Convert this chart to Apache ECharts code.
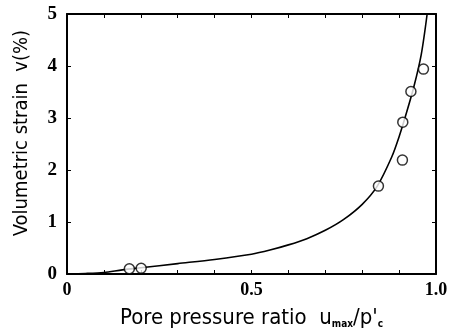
<!DOCTYPE html>
<html><head><meta charset="utf-8">
<script src="https://cdn.jsdelivr.net/npm/echarts@6/dist/echarts.min.js"></script>
<style>html,body{margin:0;padding:0;background:#fff}#c{width:453px;height:336px}</style>
</head><body><div id="c"></div>
<script>
// measured data points (pore pressure ratio, volumetric strain %)
var pointX = [0.169, 0.201, 0.844, 0.909, 0.910, 0.932, 0.966];
var pointY = [0.10, 0.11, 1.69, 2.19, 2.92, 3.51, 3.94];
// fitted curve
var curveX = [0, 0.05, 0.1, 0.15, 0.2, 0.3, 0.4, 0.5, 0.55, 0.6, 0.65, 0.7, 0.75, 0.8, 0.84, 0.88, 0.9, 0.92, 0.94, 0.96, 0.976];
var curveY = [0, 0.01, 0.03, 0.08, 0.12, 0.2, 0.28, 0.38, 0.46, 0.56, 0.68, 0.84, 1.05, 1.34, 1.68, 2.25, 2.64, 3.1, 3.6, 4.22, 5.0];
// tick labels
var xTickValues = [0, 0.5, 1.0];
var xTickLabels = ['0', '0.5', '1.0'];
var yTickLabels = ['0', '1', '2', '3', '4', '5'];

var chart = echarts.init(document.getElementById('c'));
function zip(a, b) { return a.map(function (v, i) { return [v, b[i]]; }); }
var serif = 'Liberation Serif, serif';
var narrow = 'Liberation Sans Narrow, DejaVu Sans Condensed, sans-serif';
var axLine = { show: true, onZero: false, lineStyle: { color: '#000', width: 2 } };
var tick = { show: true, inside: true, length: 4, lineStyle: { color: '#000', width: 1 } };
chart.setOption({
  animation: false,
  backgroundColor: '#fff',
  grid: { left: 67, right: 17, top: 14, bottom: 62 },
  xAxis: [{
    type: 'value', min: 0, max: 1, interval: 0.1, position: 'bottom',
    axisLine: axLine, axisTick: tick,
    axisLabel: { margin: 7, showMinLabel: true, showMaxLabel: true,
      fontFamily: serif, fontSize: 18, fontWeight: 'bold', color: '#000',
      formatter: function (v) {
        for (var i = 0; i < xTickValues.length; i++) if (Math.abs(v - xTickValues[i]) < 1e-6) return xTickLabels[i];
        return '';
      } },
    splitLine: { show: false },
    name: "Pore pressure ratio  u{s|max}/p'{s|c}",
    nameLocation: 'middle', nameGap: 33,
    nameTextStyle: {
      fontFamily: narrow, fontSize: 22, color: '#000',
      rich: { s: { fontSize: 10, fontFamily: narrow, fontWeight: 'bold', verticalAlign: 'bottom', padding: [10, 0, 0, 0], color: '#000' } }
    }
  }, {
    type: 'value', min: 0, max: 1, interval: 0.1, position: 'top',
    axisLine: axLine, axisTick: tick,
    axisLabel: { show: false }, splitLine: { show: false }
  }],
  yAxis: [{
    type: 'value', min: 0, max: 5, interval: 1, position: 'left',
    axisLine: axLine, axisTick: tick,
    axisLabel: { margin: 10, fontFamily: serif, fontSize: 19, fontWeight: 'bold', color: '#000',
      formatter: function (v) { return yTickLabels[Math.round(v)]; } },
    splitLine: { show: false },
    name: 'Volumetric strain  v(%)',
    nameLocation: 'middle', nameGap: 35,
    nameTextStyle: { fontFamily: narrow, fontSize: 20, color: '#000', padding: [0, 0, 0, 22] }
  }, {
    type: 'value', min: 0, max: 5, interval: 1, position: 'right',
    axisLine: axLine, axisTick: tick,
    axisLabel: { show: false }, splitLine: { show: false }
  }],
  series: [{
    type: 'line', xAxisIndex: 0, yAxisIndex: 0, data: zip(curveX, curveY),
    smooth: 0.3, showSymbol: false, symbol: 'none',
    lineStyle: { color: '#000', width: 1.6 }, z: 2
  }, {
    type: 'scatter', xAxisIndex: 0, yAxisIndex: 0, data: zip(pointX, pointY),
    symbol: 'circle', symbolSize: 10,
    itemStyle: { color: '#fff', borderColor: '#000', borderWidth: 1.5 }, z: 3
  }]
});
</script></body></html>
